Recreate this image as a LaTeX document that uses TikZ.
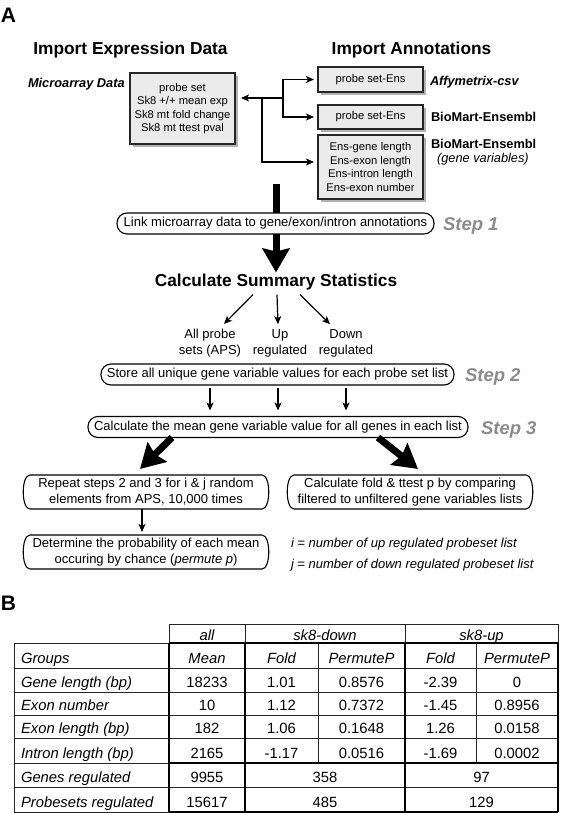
\documentclass[tikz,border=0pt]{standalone}
\usepackage{fontspec}
\setmainfont{Liberation Sans}
\usetikzlibrary{arrows.meta,shadows}
\definecolor{boxgray}{HTML}{EBEBEB}
\definecolor{stepgray}{HTML}{8C8C8C}
\begin{document}
\begin{tikzpicture}[x=1pt,y=-1pt,
  every node/.style={inner sep=0pt,outer sep=0pt},
  databox/.style={draw=black!85,line width=1.3pt,fill=boxgray,align=center,
    font=\fontsize{11.2}{13.4}\selectfont,minimum width=105pt,
    drop shadow={shadow xshift=3pt,shadow yshift=-3pt,fill=black,opacity=0.3}},
  stepbox/.style={draw,line width=1.1pt,rounded corners=10pt,minimum height=21pt,
    font=\fontsize{13}{16}\selectfont},
  pillbox/.style={minimum width=246pt,
    minimum height=34pt,align=center,font=\fontsize{13}{16}\selectfont},
  bracketline/.style={line width=1.1pt},
  maintitle/.style={font=\bfseries\fontsize{17.3}{20}\selectfont,anchor=base},
  srclabel/.style={font=\bfseries\fontsize{12.8}{15}\selectfont,anchor=base west},
  steplabel/.style={font=\bfseries\itshape\fontsize{18.5}{20}\selectfont,text=stepgray,anchor=base west},
  panel/.style={font=\bfseries\fontsize{21}{24}\selectfont,anchor=base west},
  lbl/.style={font=\fontsize{13}{16}\selectfont,align=center},
  note/.style={font=\itshape\fontsize{13}{16}\selectfont,anchor=base west},
  arr/.style={line width=1.2pt,-{Stealth[length=8pt,width=7pt,inset=2pt]}},
  bigarr/.style={line width=7pt,-{Stealth[length=24pt,width=27pt,inset=3pt]}},
  thinline/.style={line width=1pt,black!85},
  thickline/.style={line width=2.4pt,black},
  cell/.style={font=\fontsize{14.8}{17}\selectfont,anchor=base},
  icell/.style={font=\itshape\fontsize{14.8}{17}\selectfont,anchor=base},
  rowlbl/.style={font=\itshape\fontsize{14.8}{17}\selectfont,anchor=base west}
]
\useasboundingbox (0,0) rectangle (560,813);

% ---------- Panel A ----------
\node[panel] (pA) at (1,23) {A};
\node[maintitle] (t1) at (130.5,55) {Import Expression Data};
\node[maintitle] (t2) at (411.5,55) {Import Annotations};

\node[font=\bfseries\itshape\fontsize{12.8}{15}\selectfont,anchor=base west] (mad) at (28,88) {Microarray Data};
\node[databox,minimum height=71pt] (micro) at (182.5,108.5)
  {probe set\\Sk8 +/+ mean exp\\Sk8 mt fold change\\Sk8 mt ttest pval};

\node[databox,minimum height=25pt] (b1) at (370.5,79.5) {probe set-Ens};
\node[databox,minimum height=24pt] (b2) at (370.5,117) {probe set-Ens};
\node[databox,minimum height=64pt] (b3) at (370.5,167)
  {Ens-gene length\\Ens-exon length\\Ens-intron length\\Ens-exon number};

\node[font=\bfseries\itshape\fontsize{12.8}{15}\selectfont,anchor=base west] (affy) at (430,86) {Affymetrix-csv};
\node[srclabel] (bm1) at (431,122) {BioMart-Ensembl};
\node[srclabel] (bm2) at (431,149) {BioMart-Ensembl};
\node[font=\itshape\fontsize{12.8}{15}\selectfont,anchor=base west] (gv) at (437,163) {(gene variables)};

\coordinate (ja) at (283,98);
\coordinate (jb) at (262,98);
\coordinate (jc) at (262,162);
\draw[arr,shorten >=6pt] (ja) -- (micro.east |- ja);
\draw[arr,shorten >=4pt] (ja) |- (b1.west);
\draw[arr,shorten >=4pt] (ja) |- (b2.west);
\draw[arr,shorten >=4pt] (jb) -- (jc) -- (jc -| b3.west);

% Step 1
\node[stepbox,minimum width=317pt] (s1) at (275.5,223.5)
  {Link microarray data to gene/exon/intron annotations};
\node[steplabel] (st1) at (443,230) {Step 1};
\coordinate (bartop) at (276,184);
\draw[line width=7pt] (bartop) -- (bartop |- s1.north);

\node[maintitle] (css) at (276,286) {Calculate Summary Statistics};
\draw[bigarr] (s1.south -| bartop) -- ([yshift=1pt]css.north -| bartop);

\node[lbl] (aps) at (210,343) {All probe\\sets (APS)};
\node[lbl] (upr) at (280,343) {Up\\regulated};
\node[lbl] (dnr) at (346,343) {Down\\regulated};

\draw[arr] ([xshift=-23pt,yshift=-5pt]css.south) -- ([xshift=14pt,yshift=5pt]aps.north);
\draw[arr] ([xshift=1pt,yshift=-5pt]css.south) -- ([xshift=-2pt,yshift=5pt]upr.north);
\draw[arr] ([xshift=24pt,yshift=-5pt]css.south) -- ([xshift=-16pt,yshift=5pt]dnr.north);

% Step 2
\node[stepbox,minimum width=353pt] (s2) at (277.5,374.5)
  {Store all unique gene variable values for each probe set list};
\node[steplabel] (st2) at (465,381) {Step 2};

% Step 3
\node[stepbox,minimum width=380pt] (s3) at (278,427)
  {Calculate the mean gene variable value for all genes in each list};
\node[steplabel] (st3) at (481,434) {Step 3};

\draw[arr,shorten <=3pt,shorten >=6pt] (s2.south -| aps) -- (s3.north -| aps);
\draw[arr,shorten <=3pt,shorten >=6pt] ([xshift=-2pt]s2.south -| upr) -- ([xshift=-2pt]s3.north -| upr);
\draw[arr,shorten <=3pt,shorten >=6pt] (s2.south -| dnr) -- (s3.north -| dnr);

% Lower boxes
\node[pillbox] (ba) at (146,492)
  {Repeat steps 2 and 3 for i \& j random\\elements from APS, 10,000 times};
\node[pillbox] (bb) at (410,492)
  {Calculate fold \& ttest p by comparing\\filtered to unfiltered gene variables lists};
\node[pillbox] (bc) at (146,552)
  {Determine the probability of each mean\\occuring by chance (\textit{permute p})};
\foreach \n in {ba,bb,bc}
  \draw[bracketline] ([xshift=7pt]\n.north west) -- ([xshift=-7pt]\n.north east)
    .. controls ([xshift=2pt]\n.north east) and ([xshift=2pt]\n.south east) .. ([xshift=-7pt]\n.south east)
    -- ([xshift=7pt]\n.south west)
    .. controls ([xshift=-2pt]\n.south west) and ([xshift=-2pt]\n.north west) .. cycle;

\draw[bigarr] ([xshift=-106pt]s3.south) -- ([xshift=-6pt,yshift=6pt]ba.north);
\draw[bigarr] ([xshift=100pt]s3.south) -- ([xshift=8pt,yshift=6pt]bb.north);
\draw[arr,shorten >=3pt] ([xshift=-4pt]ba.south) -- ([xshift=-4pt]bc.north);

\node[note] (ni) at (291,547) {i = number of up regulated probeset list};
\node[note] (nj) at (291,568) {j = number of down regulated probeset list};

% ---------- Panel B ----------
\node[panel] (pB) at (1,610) {B};

% thin lines
\foreach \y in {643,668,692,715,738,763,787,812}
  \draw[thinline] (14,\y) -- (558,\y);
\draw[thinline] (169,624) -- (558,624);
\draw[thinline] (14,643) -- (14,812);
\foreach \x in {169,245,405,558}
  \draw[thinline] (\x,624) -- (\x,643);
\foreach \x in {318,476}
  \draw[thinline] (\x,643) -- (\x,763);
% thick lines
\foreach \x in {169,245,405,558}
  \draw[thickline] (\x,643) -- (\x,812);
\foreach \y in {643,763,812}
  \draw[thickline] (169,\y) -- (558,\y);

% header row
\node[icell] (h1) at (207,640) {all};
\node[icell] (h2) at (325,640) {sk8-down};
\node[icell] (h3) at (481.5,640) {sk8-up};

% rows
\node[rowlbl] (r1) at (21,663.5) {Groups};
\node[icell] (r1a) at (207,663.5) {Mean};
\node[icell] (r1b) at (281.5,663.5) {Fold};
\node[icell] (r1c) at (361.5,663.5) {PermuteP};
\node[icell] (r1d) at (440.5,663.5) {Fold};
\node[icell] (r1e) at (517,663.5) {PermuteP};

\node[rowlbl] (r2) at (21,687.5) {Gene length (bp)};
\node[cell] (r2a) at (207,687.5) {18233};
\node[cell] (r2b) at (281.5,687.5) {1.01};
\node[cell] (r2c) at (361.5,687.5) {0.8576};
\node[cell] (r2d) at (440.5,687.5) {-2.39};
\node[cell] (r2e) at (517,687.5) {0};

\node[rowlbl] (r3) at (21,710.5) {Exon number};
\node[cell] (r3a) at (207,710.5) {10};
\node[cell] (r3b) at (281.5,710.5) {1.12};
\node[cell] (r3c) at (361.5,710.5) {0.7372};
\node[cell] (r3d) at (440.5,710.5) {-1.45};
\node[cell] (r3e) at (517,710.5) {0.8956};

\node[rowlbl] (r4) at (21,733.5) {Exon length (bp)};
\node[cell] (r4a) at (207,733.5) {182};
\node[cell] (r4b) at (281.5,733.5) {1.06};
\node[cell] (r4c) at (361.5,733.5) {0.1648};
\node[cell] (r4d) at (440.5,733.5) {1.26};
\node[cell] (r4e) at (517,733.5) {0.0158};

\node[rowlbl] (r5) at (21,758) {Intron length (bp)};
\node[cell] (r5a) at (207,758) {2165};
\node[cell] (r5b) at (281.5,758) {-1.17};
\node[cell] (r5c) at (361.5,758) {0.0516};
\node[cell] (r5d) at (440.5,758) {-1.69};
\node[cell] (r5e) at (517,758) {0.0002};

\node[rowlbl] (r6) at (21,782) {Genes regulated};
\node[cell] (r6a) at (207,782) {9955};
\node[cell] (r6b) at (325,782) {358};
\node[cell] (r6c) at (481.5,782) {97};

\node[rowlbl] (r7) at (21,807) {Probesets regulated};
\node[cell] (r7a) at (207,807) {15617};
\node[cell] (r7b) at (325,807) {485};
\node[cell] (r7c) at (481.5,807) {129};
\end{tikzpicture}
\end{document}
